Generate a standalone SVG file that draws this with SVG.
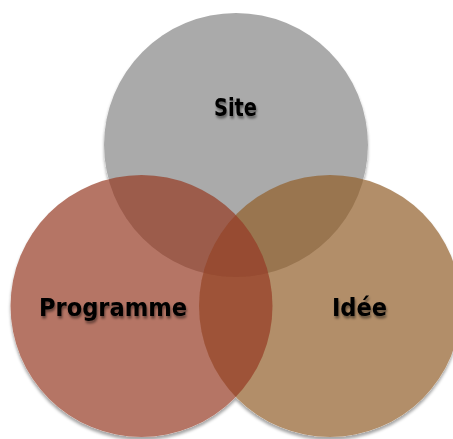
<svg xmlns="http://www.w3.org/2000/svg" width="453" height="439" viewBox="0 0 453 439">
  <defs>
    <filter id="shape-shadow" x="-10%" y="-10%" width="120%" height="120%">
      <feDropShadow dx="0" dy="3" stdDeviation="1.5" flood-color="#000" flood-opacity="0.35"/>
    </filter>
    <filter id="text-shadow" x="-10%" y="-30%" width="120%" height="160%">
      <feDropShadow dx="1" dy="2.5" stdDeviation="0.8" flood-color="#000" flood-opacity="0.45"/>
    </filter>
  </defs>
  <style>
    .lbl { font-family: "DejaVu Sans", "Liberation Sans", sans-serif; font-weight: bold; font-size: 24px; fill: #000; text-anchor: middle; filter: url(#text-shadow); }
    .base { fill: #fff; }
    .c { fill-opacity: 0.7; }
  </style>
  <rect width="453" height="439" fill="#fff"/>
  <g filter="url(#shape-shadow)">
    <g id="backing">
      <circle class="base" cx="236" cy="145" r="132"/>
      <circle class="base" cx="330" cy="306" r="131"/>
      <circle class="base" cx="141.5" cy="306" r="131"/>
    </g>
    <g id="site">
      <circle cx="236" cy="145" r="132" fill="#aaaaaa"/>
    </g>
    <g id="idee">
      <circle class="c" cx="330" cy="306" r="131" fill="#925e29"/>
    </g>
    <g id="programme">
      <circle class="c" cx="141.5" cy="306" r="131" fill="#953a23"/>
    </g>
  </g>
  <g id="labels">
    <text class="lbl" x="235.5" y="116" textLength="43" lengthAdjust="spacingAndGlyphs">Site</text>
    <text class="lbl" x="113" y="316" textLength="148" lengthAdjust="spacingAndGlyphs">Programme</text>
    <text class="lbl" x="359.5" y="316" textLength="55" lengthAdjust="spacingAndGlyphs">Idée</text>
  </g>
</svg>
